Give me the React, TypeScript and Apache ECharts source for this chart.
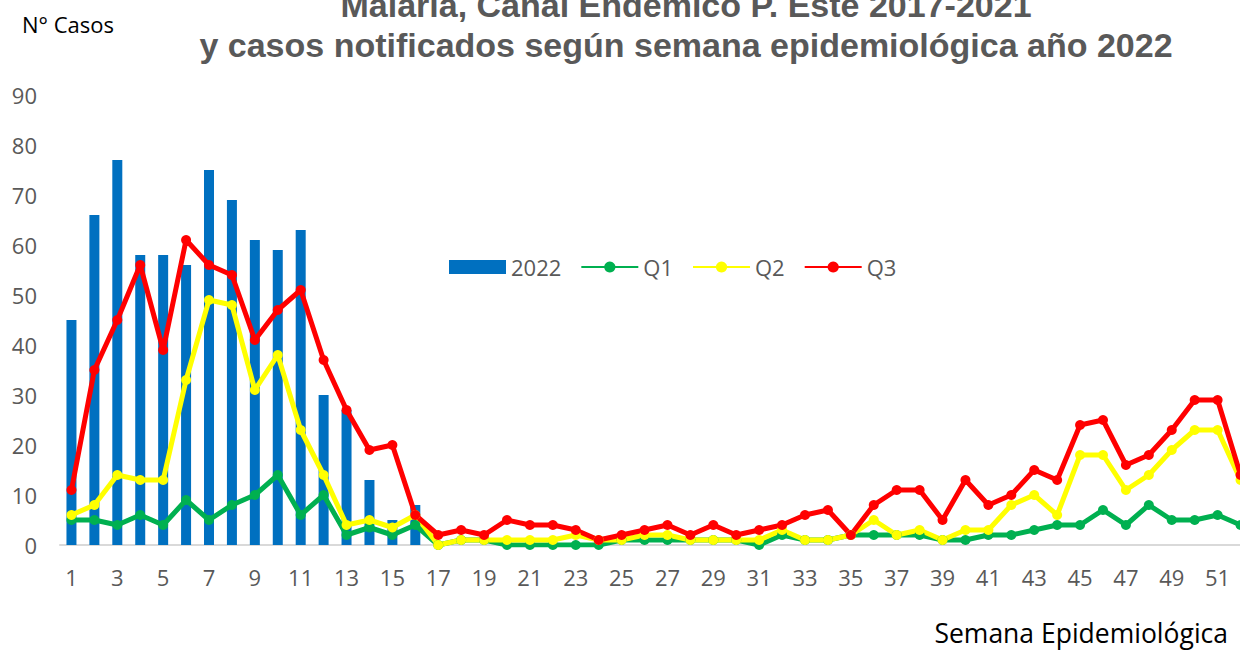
import React, { useEffect, useRef } from "react";
import * as echarts from "echarts";

const weeks = [
  "1", "2", "3", "4", "5", "6", "7", "8", "9", "10",
  "11", "12", "13", "14", "15", "16", "17", "18", "19", "20",
  "21", "22", "23", "24", "25", "26", "27", "28", "29", "30",
  "31", "32", "33", "34", "35", "36", "37", "38", "39", "40",
  "41", "42", "43", "44", "45", "46", "47", "48", "49", "50",
  "51", "52",
];

const cases2022 = [
  45, 66, 77, 58, 58, 56, 75, 69, 61, 59,
  63, 30, 27, 13, 5, 8,
];

const q1 = [
  5, 5, 4, 6, 4, 9, 5, 8, 10, 14,
  6, 10, 2, 3.5, 2, 4, 0, 1, 1, 0,
  0, 0, 0, 0, 1, 1, 1, 1, 1, 1,
  0, 2, 1, 1, 2, 2, 2, 2, 1, 1,
  2, 2, 3, 4, 4, 7, 4, 8, 5, 5,
  6, 4,
];

const q2 = [
  6, 8, 14, 13, 13, 33, 49, 48, 31, 38,
  23, 14, 4, 5, 3.5, 6, 0, 1, 1, 1,
  1, 1, 2, 1, 1, 2, 2, 1, 1, 1,
  1, 3, 1, 1, 2, 5, 2, 3, 1, 3,
  3, 8, 10, 6, 18, 18, 11, 14, 19, 23,
  23, 13,
];

const q3 = [
  11, 35, 45, 56, 39, 61, 56, 54, 41, 47,
  51, 37, 27, 19, 20, 6, 2, 3, 2, 5,
  4, 4, 3, 1, 2, 3, 4, 2, 4, 2,
  3, 4, 6, 7, 2, 8, 11, 11, 5, 13,
  8, 10, 15, 13, 24, 25, 16, 18, 23, 29,
  29, 14,
];

const yTicks = { min: 0, max: 90, interval: 10 };

const titleLine1 = "Malaria, Canal Endémico P. Este 2017-2021";
const titleLine2 = "y casos notificados según semana epidemiológica año 2022";

export default function App() {
  const ref = useRef<HTMLDivElement>(null);

  useEffect(() => {
    if (!ref.current) return;
    const chart = echarts.init(ref.current, undefined, { renderer: "svg" });
    const axisFont = "'Open Sans', 'Noto Sans', sans-serif";
    const lineSeries = (name: string, data: number[], color: string) => ({
      name,
      type: "line",
      data,
      symbol: "circle",
      symbolSize: 10,
      showSymbol: true,
      itemStyle: { color },
      lineStyle: { color, width: 5 },
    });
    chart.setOption({
      animation: false,
      backgroundColor: "#ffffff",
      graphic: [
        {
          type: "text",
          x: 686,
          y: 5,
          style: {
            text: titleLine1,
            fill: "#595959",
            font: "bold 34px 'Liberation Sans', Arial, sans-serif",
            textAlign: "center",
            textVerticalAlign: "middle",
          },
        },
        {
          type: "text",
          x: 686,
          y: 45,
          style: {
            text: titleLine2,
            fill: "#595959",
            font: "bold 34px 'Liberation Sans', Arial, sans-serif",
            textAlign: "center",
            textVerticalAlign: "middle",
          },
        },
        {
          type: "text",
          x: 22,
          y: 24,
          style: {
            text: "N° Casos",
            fill: "#000000",
            font: "22px 'Open Sans', sans-serif",
            textAlign: "left",
            textVerticalAlign: "middle",
          },
        },
        {
          type: "text",
          x: 1228,
          y: 633,
          style: {
            text: "Semana Epidemiológica",
            fill: "#000000",
            font: "26.5px 'Open Sans', sans-serif",
            textAlign: "right",
            textVerticalAlign: "middle",
          },
        },
      ],
      legend: {
        left: 444,
        top: 251,
        itemWidth: 57,
        itemHeight: 14,
        itemGap: 19,
        textStyle: { fontSize: 22, color: "#595959", fontFamily: axisFont },
        data: [
          { name: "2022", icon: "rect" },
          { name: "Q1" },
          { name: "Q2" },
          { name: "Q3" },
        ],
      },
      grid: { left: 60, top: 95, right: 0, height: 450 },
      xAxis: {
        type: "category",
        data: weeks,
        boundaryGap: true,
        axisLine: { show: true, lineStyle: { color: "#D9D9D9", width: 2 } },
        axisTick: { show: false },
        axisLabel: {
          interval: 1,
          fontSize: 22,
          color: "#595959",
          fontFamily: axisFont,
          margin: 21,
        },
        splitLine: { show: false },
      },
      yAxis: {
        type: "value",
        min: yTicks.min,
        max: yTicks.max,
        interval: yTicks.interval,
        axisLine: { show: false },
        axisTick: { show: false },
        splitLine: { show: false },
        axisLabel: {
          fontSize: 22,
          color: "#595959",
          fontFamily: axisFont,
          margin: 23,
        },
      },
      series: [
        {
          name: "2022",
          type: "bar",
          data: cases2022,
          barWidth: 10,
          itemStyle: { color: "#0070C0" },
        },
        lineSeries("Q1", q1, "#00B050"),
        lineSeries("Q2", q2, "#FFFF00"),
        lineSeries("Q3", q3, "#FF0000"),
      ],
    });
    return () => chart.dispose();
  }, []);

  return (
    <div
      ref={ref}
      style={{ position: "fixed", left: 0, top: 0, width: 1252, height: 650, background: "#fff" }}
    />
  );
}
